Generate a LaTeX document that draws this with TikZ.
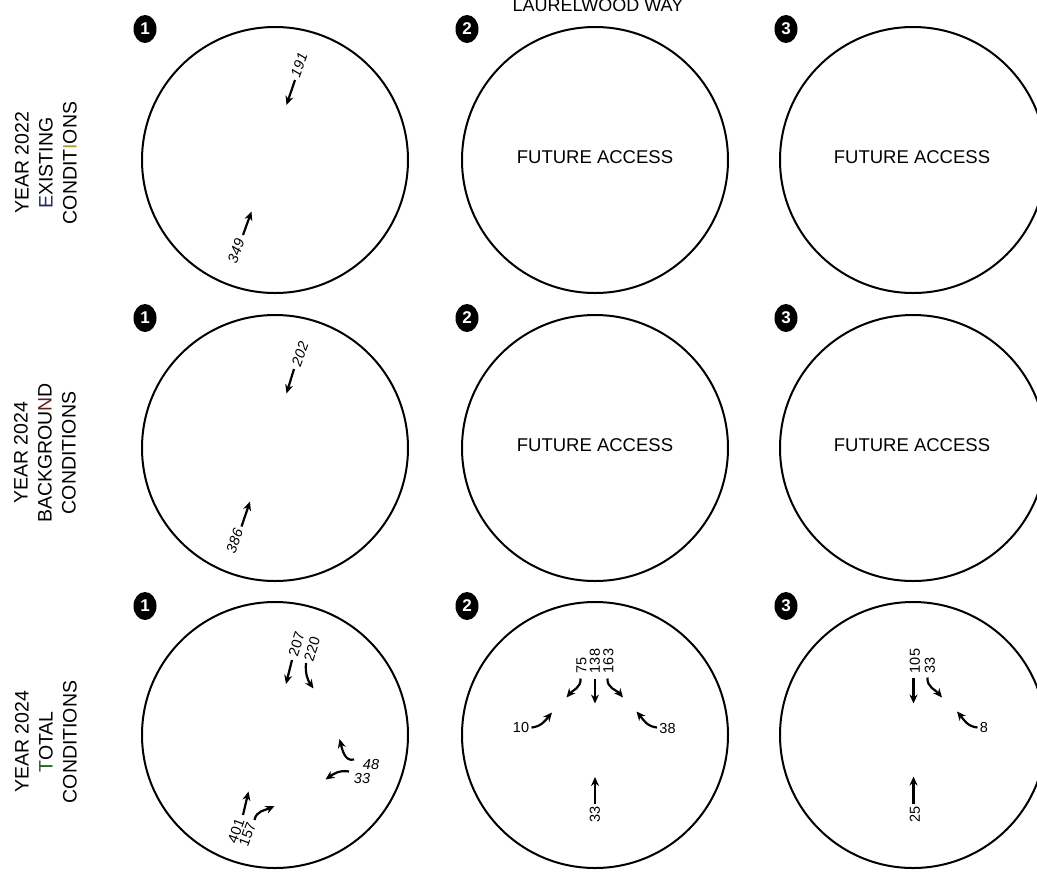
\documentclass[tikz,border=0pt]{standalone}
\usepackage{fontspec}
\setmainfont{Liberation Sans}
\usetikzlibrary{arrows.meta,shapes.geometric}
\definecolor{tintE}{RGB}{35,40,95}
\definecolor{tintI}{RGB}{175,150,60}
\definecolor{tintN}{RGB}{95,30,25}
\definecolor{tintT}{RGB}{25,95,30}
\begin{document}
\begin{tikzpicture}[x=1pt,y=1pt,
  ring/.style={draw=black, line width=2pt, circle, minimum size=266pt, inner sep=0pt},
  badge/.style={fill=black, ellipse, minimum width=23pt, minimum height=28pt, inner sep=0pt,
    text=white, font=\fontsize{17}{17}\selectfont\bfseries},
  arr/.style={line width=2.2pt, -{Stealth[length=9pt,width=8pt]}},
  num/.style={font=\fontsize{14.5}{14.5}\selectfont, inner sep=0pt},
  inum/.style={font=\fontsize{14.5}{14.5}\selectfont\itshape, inner sep=0pt},
  side/.style={font=\fontsize{19.5}{24}\selectfont, rotate=90, align=center, inner sep=0pt},
  fa/.style={font=\fontsize{18.5}{18.5}\selectfont, inner sep=0pt}]
\useasboundingbox (0,0) rectangle (1037,-871);

% street name
\node[font=\fontsize{18}{18}\selectfont, anchor=base, inner sep=0pt] (street) at (598,-11) {LAURELWOOD WAY};

% row labels
\node[side] (lab1) at (46,-163) {YEAR 2022\\{\color{tintE}E}XISTING\\CONDIT{\color{tintI}I}ONS};
\node[side] (lab2) at (45,-453) {YEAR 2024\\BACKGROU{\color{tintN}N}D\\CONDITIONS};
\node[side] (lab3) at (46,-742) {YEAR 2024\\{\color{tintT}T}OTAL\\CONDITIONS};

% circles
\node[ring] (c11) at (275,-160) {};
\node[ring] (c12) at (595,-160) {};
\node[ring] (c13) at (913,-160) {};
\node[ring] (c21) at (275,-448) {};
\node[ring] (c22) at (595,-448) {};
\node[ring] (c23) at (913,-448) {};
\node[ring] (c31) at (275,-735) {};
\node[ring] (c32) at (595,-735) {};
\node[ring] (c33) at (913,-735) {};

% badges
\node[badge] (b11) at (145,-29) {1};
\node[badge] (b12) at (467,-29) {2};
\node[badge] (b13) at (786,-29) {3};
\node[badge] (b21) at (145,-318) {1};
\node[badge] (b22) at (467,-318) {2};
\node[badge] (b23) at (786,-318) {3};
\node[badge] (b31) at (145,-606) {1};
\node[badge] (b32) at (467,-606) {2};
\node[badge] (b33) at (786,-606) {3};

% future access
\node[fa] (fa12) at (595,-157) {FUTURE ACCESS};
\node[fa] (fa13) at (912,-157) {FUTURE ACCESS};
\node[fa] (fa22) at (595,-445) {FUTURE ACCESS};
\node[fa] (fa23) at (912,-445) {FUTURE ACCESS};

% ---- row 1, intersection 1
\node[inum, rotate=70] (n191) at (299,-65) {191};
\coordinate (t191) at (295,-80); \coordinate (h191) at (286.5,-105);
\draw[arr] (t191) -- (h191);
\node[inum, rotate=70] (n349) at (236,-251) {349};
\coordinate (t349) at (243,-235); \coordinate (h349) at (251.5,-211.5);
\draw[arr] (t349) -- (h349);

% ---- row 2, intersection 1
\node[inum, rotate=70] (n202) at (300,-354) {202};
\coordinate (t202) at (294,-369); \coordinate (h202) at (286.5,-393.5);
\draw[arr] (t202) -- (h202);
\node[inum, rotate=70] (n386) at (234.5,-541) {386};
\coordinate (t386) at (241.5,-526.5); \coordinate (h386) at (250,-501.5);
\draw[arr] (t386) -- (h386);

% ---- row 3, intersection 1
\node[num, rotate=72] (n207) at (296.5,-644) {207};
\node[num, rotate=72] (n220) at (312,-649) {220};
\coordinate (t207) at (292,-660); \coordinate (h207) at (286,-684);
\draw[arr] (t207) -- (h207);
\coordinate (t220) at (306,-663); \coordinate (h220) at (313.5,-688.5);
\draw[arr] (t220) to[out=-95,in=125] (h220);
\node[inum] (n48) at (371,-765) {48};
\node[inum] (n33a) at (362,-778) {33};
\coordinate (t48) at (354,-759.5); \coordinate (h48) at (339.5,-739);
\draw[arr] (t48) to[out=195,in=-75] (h48);
\coordinate (t33a) at (349,-771.5); \coordinate (h33a) at (325.5,-779.5);
\draw[arr] (t33a) to[out=170,in=35] (h33a);
\node[num, rotate=70] (n401) at (236,-831) {401};
\node[num, rotate=70] (n157) at (247.5,-834.5) {157};
\coordinate (t401) at (243,-815); \coordinate (h401) at (248.5,-791.5);
\draw[arr] (t401) -- (h401);
\coordinate (t157) at (254.5,-820); \coordinate (h157) at (274.5,-806);
\draw[arr] (t157) to[out=80,in=205] (h157);

% ---- row 3, intersection 2
\node[num, rotate=90] (n75) at (581.5,-665.5) {75};
\node[num, rotate=90] (n138) at (595,-661) {138};
\node[num, rotate=90] (n163) at (608.5,-661) {163};
\coordinate (t75) at (580.5,-678.5); \coordinate (h75) at (566.5,-697.5);
\draw[arr] (t75) to[out=-85,in=50] (h75);
\coordinate (t138) at (595,-678.5); \coordinate (h138) at (595,-703.5);
\draw[arr] (t138) -- (h138);
\coordinate (t163) at (607.5,-678.5); \coordinate (h163) at (623,-697.5);
\draw[arr] (t163) to[out=-95,in=130] (h163);
\node[num] (n10) at (521,-727.5) {10};
\coordinate (t10) at (531.5,-727.5); \coordinate (h10) at (552,-712.5);
\draw[arr] (t10) to[out=5,in=230] (h10);
\node[num] (n38) at (667.5,-728.5) {38};
\coordinate (t38) at (657,-727.5); \coordinate (h38) at (636.5,-711.5);
\draw[arr] (t38) to[out=175,in=-50] (h38);
\node[num, rotate=90] (n33b) at (595,-814) {33};
\coordinate (t33b) at (595,-804); \coordinate (h33b) at (595,-777);
\draw[arr] (t33b) -- (h33b);

% ---- row 3, intersection 3
\node[num, rotate=90] (n105) at (915,-661) {105};
\node[num, rotate=90] (n33c) at (930,-665) {33};
\coordinate (t105) at (913.5,-677.5); \coordinate (h105) at (913.5,-703.5);
\draw[arr] (t105) -- (h105);
\coordinate (t33c) at (927.5,-677.5); \coordinate (h33c) at (942,-697.5);
\draw[arr] (t33c) to[out=-95,in=130] (h33c);
\node[num] (n8) at (984,-727.5) {8};
\coordinate (t8) at (977.5,-727.5); \coordinate (h8) at (957,-711.5);
\draw[arr] (t8) to[out=175,in=-50] (h8);
\node[num, rotate=90] (n25) at (915,-814) {25};
\coordinate (t25) at (913.5,-803.5); \coordinate (h25) at (913.5,-776.5);
\draw[arr] (t25) -- (h25);
\end{tikzpicture}
\end{document}
